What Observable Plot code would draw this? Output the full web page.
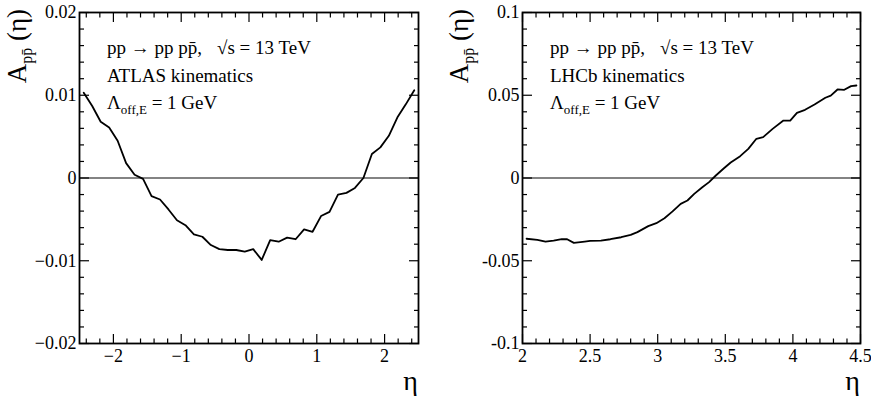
<!DOCTYPE html>
<html><head><meta charset="utf-8">
<script src="https://cdn.jsdelivr.net/npm/d3@7"></script>
<script src="https://cdn.jsdelivr.net/npm/@observablehq/plot@0.6"></script>
<style>
body{margin:0;background:#fff}
#wrap{display:flex;width:871px;height:401px;overflow:hidden}
#wrap svg{overflow:visible}
#wrap svg, #wrap svg text, #wrap svg tspan{font-family:"Liberation Serif", "Times New Roman", serif !important}
</style></head><body><div id="wrap"></div>
<script>
// ATLAS panel (left)
const atlasEta = [-2.4375,-2.3125,-2.1875,-2.0625,-1.9375,-1.8125,-1.6875,-1.5625,-1.4375,-1.3125,-1.1875,-1.0625,-0.9375,-0.8125,-0.6875,-0.5625,-0.4375,-0.3125,-0.1875,-0.0625,0.0625,0.1875,0.3125,0.4375,0.5625,0.6875,0.8125,0.9375,1.0625,1.1875,1.3125,1.4375,1.5625,1.6875,1.8125,1.9375,2.0625,2.1875,2.3125,2.4375];
const atlasA = [0.0103,0.0087,0.0068,0.0061,0.0045,0.0018,0.0004,-0.0001,-0.0022,-0.0026,-0.0038,-0.0051,-0.0057,-0.0068,-0.0071,-0.0081,-0.0086,-0.0087,-0.0087,-0.0089,-0.0086,-0.0099,-0.0075,-0.0077,-0.0072,-0.0074,-0.0062,-0.0065,-0.0046,-0.0041,-0.0020,-0.0018,-0.0012,0.0000,0.0029,0.0037,0.0051,0.0073,0.0089,0.0106];
// LHCb panel (right)
const lhcbEta = [2.03,2.11,2.17,2.23,2.29,2.33,2.38,2.46,2.50,2.58,2.65,2.73,2.80,2.85,2.93,2.99,3.05,3.11,3.17,3.22,3.27,3.33,3.38,3.43,3.49,3.54,3.61,3.67,3.73,3.78,3.85,3.93,3.98,4.03,4.09,4.16,4.24,4.28,4.33,4.38,4.43,4.47];
const lhcbA = [-0.0367,-0.0374,-0.0384,-0.0378,-0.0370,-0.0370,-0.0392,-0.0384,-0.0380,-0.0378,-0.0370,-0.0358,-0.0344,-0.0327,-0.0291,-0.0273,-0.0243,-0.0202,-0.0156,-0.0136,-0.0096,-0.0056,-0.0025,0.0015,0.0059,0.0094,0.0132,0.0176,0.0237,0.0247,0.0297,0.0347,0.0347,0.0394,0.0412,0.0444,0.0485,0.0498,0.0535,0.0533,0.0555,0.0559];

// tick values and labels
const atlasXTicks = [-2,-1,0,1,2];
const atlasXLabels = ["\u22122","\u22121","0","1","2"];
const atlasYTicks = [-0.02,-0.01,0,0.01,0.02];
const atlasYLabels = ["\u22120.02","\u22120.01","0","0.01","0.02"];
const lhcbXTicks = [2,2.5,3,3.5,4,4.5];
const lhcbXLabels = ["2","2.5","3","3.5","4","4.5"];
const lhcbYTicks = [-0.1,-0.05,0,0.05,0.1];
const lhcbYLabels = ["-0.1","-0.05","0","0.05","0.1"];

const minors = (lo, hi, step, majors) =>
  d3.range(Math.round((hi - lo) / step) + 1).map(i => +(lo + i * step).toFixed(6))
    .filter(v => !majors.some(m => Math.abs(m - v) < 1e-9));

const H = 401, MT = 12, MB = 58;
const FONT = "Liberation Serif";

function panel(o) {
  const xf = new Map(o.xMaj.map((v, i) => [v, o.xLab[i]]));
  const yf = new Map(o.yMaj.map((v, i) => [v, o.yLab[i]]));
  const data = o.eta.map((e, i) => ({e, v: o.vals[i]}));
  const blank = () => "";
  const svg = Plot.plot({
    width: o.width, height: H, marginLeft: o.ml, marginRight: o.mr, marginTop: MT, marginBottom: MB,
    style: {fontFamily: FONT, fontSize: "18px", color: "#000", background: "#fff", overflow: "visible"},
    x: {domain: o.xDomain},
    y: {domain: o.yDomain},
    marks: [
      Plot.ruleY([0], {stroke: "#5a5a5a", strokeWidth: 1.3}),
      Plot.line(data, {x: "e", y: "v", stroke: "#000", strokeWidth: 1.8}),
      Plot.frame({stroke: "#000", strokeWidth: 1.8}),
      Plot.axisX({anchor: "bottom", ticks: o.xMaj, tickSize: -9, tickPadding: 15, tickFormat: d => xf.get(d), label: null, strokeWidth: 1.2, fontFamily: FONT}),
      Plot.axisX({anchor: "bottom", ticks: o.xMin, tickSize: -4.5, tickFormat: blank, label: null, strokeWidth: 1.2}),
      Plot.axisX({anchor: "top", ticks: o.xMaj, tickSize: -9, tickFormat: blank, label: null, strokeWidth: 1.2}),
      Plot.axisX({anchor: "top", ticks: o.xMin, tickSize: -4.5, tickFormat: blank, label: null, strokeWidth: 1.2}),
      Plot.axisY({anchor: "left", ticks: o.yMaj, tickSize: -10, tickPadding: 13, tickFormat: d => yf.get(d), label: null, strokeWidth: 1.2, fontFamily: FONT}),
      Plot.axisY({anchor: "left", ticks: o.yMin, tickSize: -5, tickFormat: blank, label: null, strokeWidth: 1.2}),
      Plot.axisY({anchor: "right", ticks: o.yMaj, tickSize: -10, tickFormat: blank, label: null, strokeWidth: 1.2}),
      Plot.axisY({anchor: "right", ticks: o.yMin, tickSize: -5, tickFormat: blank, label: null, strokeWidth: 1.2})
    ]
  });
  const s = d3.select(svg);
  const fl = o.ml, fr = o.width - o.mr;
  const g = s.append("g").attr("fill", "#000").attr("text-anchor", "start");
  const txt = (sel, size) => sel.style("font-size", size + "px");
  // y-axis title
  const yt = txt(g.append("text").attr("transform", `translate(${o.yTitleX},9) rotate(-90)`)
    .attr("text-anchor", "end"), 27);
  yt.append("tspan").text("A");
  txt(yt.append("tspan").attr("dy", 6), 16).text("pp\u0304");
  txt(yt.append("tspan").attr("dy", -6), 27).text(" (\u03b7)");
  // x-axis title
  txt(g.append("text").attr("x", fr).attr("y", 390).attr("text-anchor", "end"), 28).text("\u03b7");
  // annotations
  const ax = fl + 28;
  txt(g.append("text").attr("x", ax).attr("y", 54), 19).text("pp \u2192 pp pp\u0304,");
  txt(g.append("text").attr("x", fl + 138).attr("y", 54), 19).text("\u221As = 13 TeV");
  txt(g.append("text").attr("x", ax).attr("y", 81.5), 19).text(o.kin);
  const lt = txt(g.append("text").attr("x", ax).attr("y", 109), 19);
  lt.append("tspan").text("\u039b");
  txt(lt.append("tspan").attr("dy", 5), 13).text("off,E");
  txt(lt.append("tspan").attr("dy", -5), 19).text(" = 1 GeV");
  return svg;
}

const wrap = document.getElementById("wrap");
wrap.appendChild(panel({
  width: 435, ml: 79, mr: 17, xDomain: [-2.5, 2.5], yDomain: [-0.02, 0.02],
  xMaj: atlasXTicks, xLab: atlasXLabels, xMin: minors(-2.4, 2.4, 0.2, atlasXTicks),
  yMaj: atlasYTicks, yLab: atlasYLabels, yMin: minors(-0.02, 0.02, 0.002, atlasYTicks),
  eta: atlasEta, vals: atlasA, kin: "ATLAS kinematics", yTitleX: 26
}));
wrap.appendChild(panel({
  width: 436, ml: 87, mr: 11, xDomain: [2, 4.5], yDomain: [-0.1, 0.1],
  xMaj: lhcbXTicks, xLab: lhcbXLabels, xMin: minors(2, 4.5, 0.1, lhcbXTicks),
  yMaj: lhcbYTicks, yLab: lhcbYLabels, yMin: minors(-0.1, 0.1, 0.01, lhcbYTicks),
  eta: lhcbEta, vals: lhcbA, kin: "LHCb kinematics", yTitleX: 33
}));
</script></body></html>
